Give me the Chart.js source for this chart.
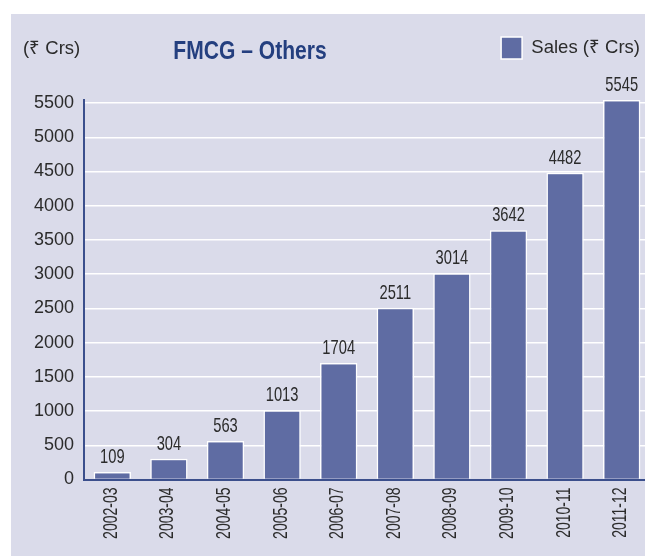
<!DOCTYPE html>
<html>
<head>
<meta charset="utf-8">
<script src="https://cdn.jsdelivr.net/npm/chart.js@4"></script>
<style>
  html, body { margin: 0; padding: 0; background: #fff; overflow: hidden; }
  #panel { position: absolute; left: 11px; top: 14px; right: 0; bottom: 0; background: #dadbea; }
  #chart { position: absolute; left: 0; top: 0; }
</style>
</head>
<body>
<div id="panel"></div>
<canvas id="chart" width="650" height="556"></canvas>
<script>
const years = ['2002-03', '2003-04', '2004-05', '2005-06', '2006-07', '2007-08', '2008-09', '2009-10', '2010-11', '2011-12'];
const sales = [109, 304, 563, 1013, 1704, 2511, 3014, 3642, 4482, 5545];
const yTicks = [0, 500, 1000, 1500, 2000, 2500, 3000, 3500, 4000, 4500, 5000, 5500];

const barColor = '#5f6ca3';
const axisColor = '#3b4f8c';
const textColor = '#2b2b2b';
const font = '"Liberation Sans", Arial, sans-serif';

// condensed-looking text: squeeze along the text direction
function squeezed(ctx, text, x, y, sx, rot) {
    ctx.save();
    ctx.translate(x, y);
    ctx.rotate(rot);
    ctx.scale(sx, 1);
    ctx.fillText(text, 0, 0);
    ctx.restore();
}

// push the plot down below the legend row
const legendGap = {
    id: 'legendGap',
    beforeInit(chart) {
        const fit = chart.legend.fit;
        chart.legend.fit = function() {
            fit.bind(this)();
            this.height += 31;
        };
    }
};

// unit label, title, bar values and category labels
const extras = {
    id: 'extras',
    afterDatasetsDraw(chart) {
        const ctx = chart.ctx;
        const xScale = chart.scales.x;
        ctx.save();
        ctx.fillStyle = textColor;

        ctx.font = '21px ' + font;
        ctx.textAlign = 'center';
        ctx.textBaseline = 'alphabetic';
        chart.getDatasetMeta(0).data.forEach((bar, i) => {
            squeezed(ctx, String(sales[i]), bar.x, bar.y - 9, 0.7, 0);
        });

        ctx.font = '20px ' + font;
        ctx.textAlign = 'right';
        ctx.textBaseline = 'middle';
        years.forEach((y, i) => {
            squeezed(ctx, y, xScale.getPixelForValue(i) - 1, xScale.top + 8, 0.7, -Math.PI / 2);
        });

        ctx.textAlign = 'left';
        ctx.font = '18.5px ' + font;
        ctx.fillText('(₹ Crs)', 23, 49);

        ctx.fillStyle = '#243f7f';
        ctx.font = 'bold 26px ' + font;
        ctx.textAlign = 'center';
        squeezed(ctx, 'FMCG – Others', 250, 52, 0.81, 0);
        ctx.restore();
    }
};

new Chart(document.getElementById('chart'), {
    type: 'bar',
    data: {
        labels: years,
        datasets: [{
            label: 'Sales (₹ Crs)',
            data: sales,
            backgroundColor: barColor,
            borderColor: '#ffffff',
            borderWidth: 1.5,
            barPercentage: 0.66,
            categoryPercentage: 1
        }]
    },
    options: {
        responsive: false,
        animation: false,
        layout: { padding: { top: 27, left: 0, right: 0, bottom: 0 } },
        plugins: {
            tooltip: { enabled: false },
            legend: {
                position: 'top',
                align: 'end',
                labels: {
                    boxWidth: 21,
                    boxHeight: 22,
                    color: textColor,
                    font: { family: font, size: 18.5 }
                }
            }
        },
        scales: {
            x: {
                grid: { display: false },
                border: { display: true, color: axisColor, width: 2 },
                ticks: { display: false },
                afterFit(scale) { scale.height = 76.5; }
            },
            y: {
                min: 0,
                max: 5545,
                afterBuildTicks(scale) {
                    scale.ticks = yTicks.map(v => ({ value: v }));
                },
                grid: { color: '#ffffff', lineWidth: 1.5, drawTicks: false },
                border: { display: true, color: axisColor, width: 2 },
                ticks: {
                    color: textColor,
                    font: { family: font, size: 18 },
                    padding: 10,
                    callback: v => String(v)
                },
                afterFit(scale) { scale.width = 84; }
            }
        }
    },
    plugins: [legendGap, extras]
});
</script>
</body>
</html>
